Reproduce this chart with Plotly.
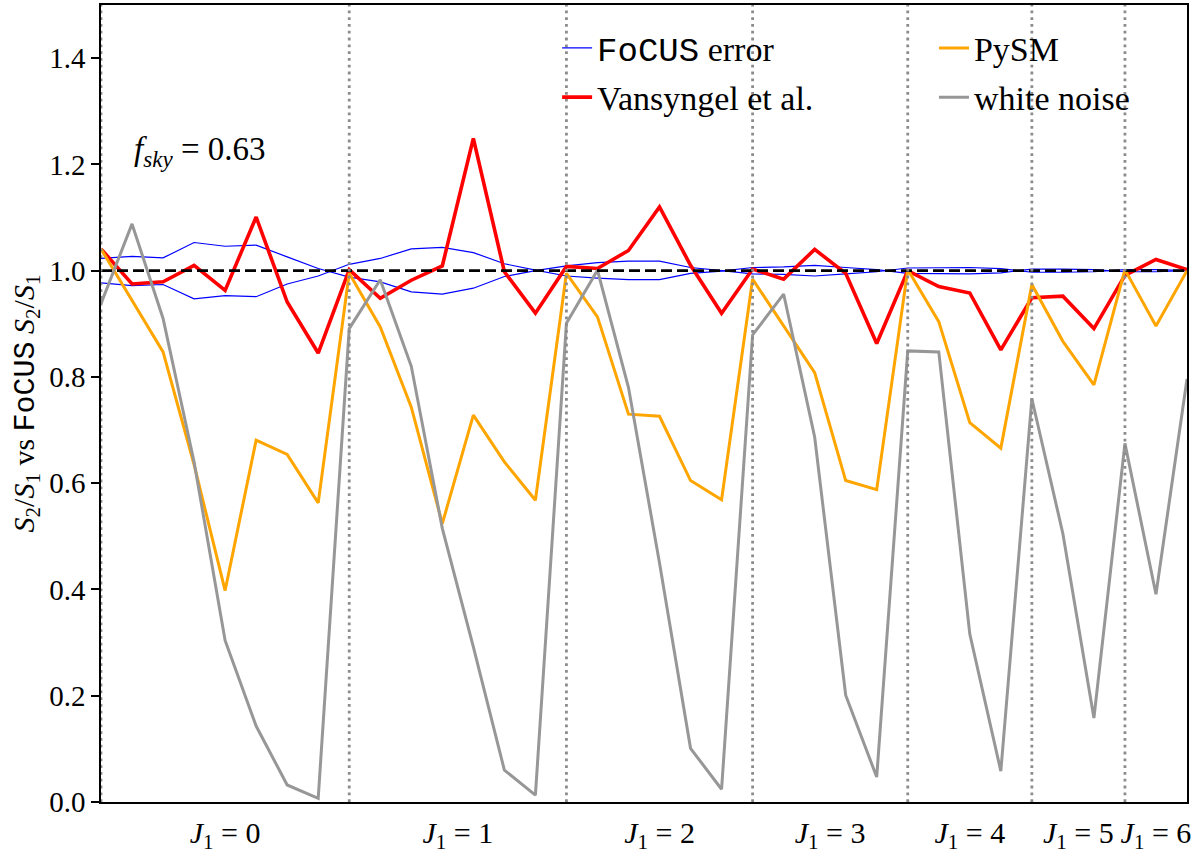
import plotly.graph_objects as go

# ---------------- data ----------------
x_idx = list(range(36))

vansyngel = [1.041, 0.975, 0.979, 1.010, 0.963, 1.101, 0.941, 0.845,
             1.002, 0.948, 0.982, 1.009, 1.249, 0.998, 0.920,
             1.008, 1.004, 1.038, 1.120, 1.010, 0.920,
             1.003, 0.984, 1.040, 0.995, 0.863,
             1.000, 0.970, 0.958, 0.851,
             0.949, 0.952, 0.891,
             0.991, 1.021, 1.002]

pysm = [1.041, 0.944, 0.847, 0.635, 0.398, 0.681, 0.654, 0.563,
        0.995, 0.894, 0.743, 0.524, 0.728, 0.640, 0.568,
        0.995, 0.913, 0.730, 0.726, 0.605, 0.569,
        0.984, 0.897, 0.808, 0.605, 0.588,
        1.002, 0.904, 0.714, 0.666,
        0.974, 0.867, 0.785,
        1.002, 0.896, 1.000]

white_noise = [0.938, 1.088, 0.910, 0.640, 0.304, 0.143, 0.032, 0.007,
               0.891, 0.983, 0.820, 0.515, 0.292, 0.060, 0.013,
               0.901, 1.001, 0.780, 0.450, 0.101, 0.024,
               0.879, 0.956, 0.687, 0.201, 0.047,
               0.849, 0.847, 0.316, 0.058,
               0.759, 0.505, 0.158,
               0.675, 0.391, 0.796]

focus_err_a = [1.023, 1.027, 1.024, 1.053, 1.046, 1.048, 1.026, 1.004,
               0.988, 0.979, 0.960, 0.956, 0.967, 0.989, 1.000,
               1.009, 1.015, 1.018, 1.018, 1.006, 1.000,
               0.994, 0.993, 0.990, 0.994, 0.998,
               1.005, 1.006, 1.006, 1.004,
               0.997, 0.997, 0.998,
               1.002, 1.002, 1.000]

focus_err_b = [0.977, 0.972, 0.974, 0.947, 0.953, 0.951, 0.975, 0.990,
               1.012, 1.023, 1.041, 1.044, 1.034, 1.013, 1.001,
               0.990, 0.986, 0.983, 0.983, 0.995, 0.999,
               1.006, 1.007, 1.010, 1.006, 1.002,
               0.995, 0.994, 0.994, 0.996,
               1.003, 1.003, 1.002,
               0.998, 0.998, 1.000]

block_starts = [0, 8, 15, 21, 26, 30, 33]
x_max = 35
tick_pos = [4, 11.5, 18, 23.5, 28, 31.5, 34]
tick_labels = ["<i>J</i><sub>1</sub> = %d" % j for j in range(7)]
y_ticks = [0.0, 0.2, 0.4, 0.6, 0.8, 1.0, 1.2, 1.4]

# ---------------- style ----------------
SERIF = "Liberation Serif"
MONO = "Liberation Mono"
mono = lambda s: "<span style='font-family:%s'>%s</span>" % (MONO, s)

fig = go.Figure()

fig.add_trace(go.Scatter(x=x_idx, y=focus_err_a, mode="lines",
                         line=dict(color="#0000ff", width=1.2),
                         name=mono("FoCUS") + " error",
                         legend="legend", legendgroup="g1"))
fig.add_trace(go.Scatter(x=x_idx, y=focus_err_b, mode="lines",
                         line=dict(color="#0000ff", width=1.2),
                         showlegend=False, legendgroup="g1"))
fig.add_trace(go.Scatter(x=x_idx, y=vansyngel, mode="lines",
                         line=dict(color="#ff0000", width=3.6),
                         name="Vansyngel et al.",
                         legend="legend", legendgroup="g2"))
fig.add_trace(go.Scatter(x=x_idx, y=pysm, mode="lines",
                         line=dict(color="#ffa500", width=3.0),
                         name="PySM",
                         legend="legend2", legendgroup="g3"))
fig.add_trace(go.Scatter(x=x_idx, y=white_noise, mode="lines",
                         line=dict(color="#979797", width=3.0),
                         name="white noise",
                         legend="legend2", legendgroup="g4"))

# horizontal reference line at 1
fig.add_shape(type="line", xref="x", yref="y", x0=0, x1=x_max, y0=1, y1=1,
              line=dict(color="black", width=2.8, dash="11px,5px"), layer="above")
# block separators
for b in block_starts:
    fig.add_shape(type="line", xref="x", yref="paper", x0=b, x1=b, y0=0, y1=1,
                  line=dict(color="#8c8c8c", width=2.8, dash="2.8px,4px"), layer="above")

fig.add_annotation(x=1, y=1.225, xref="x", yref="y", xanchor="left", yanchor="middle",
                   text="<i>f</i><sub><i>sky</i></sub> = 0.63", showarrow=False,
                   font=dict(family=SERIF, size=33, color="black"))

legend_common = dict(xanchor="left", yanchor="top", bgcolor="rgba(0,0,0,0)",
                     borderwidth=0, traceorder="grouped", tracegroupgap=2,
                     font=dict(family=SERIF, size=34, color="black"))

fig.update_layout(
    width=1200, height=858,
    margin=dict(l=101, r=13, t=5, b=56, autoexpand=False),
    paper_bgcolor="white", plot_bgcolor="white",
    font=dict(family=SERIF, color="black"),
    legend=dict(x=0.42, y=0.982, **legend_common),
    legend2=dict(x=0.767, y=0.982, **legend_common),
    xaxis=dict(range=[0, x_max], showgrid=False, zeroline=False, automargin=False,
               showline=True, mirror=True, linecolor="black", linewidth=1.6,
               ticks="", tickvals=tick_pos, ticktext=tick_labels,
               ticklabelstandoff=3,
               tickfont=dict(family=SERIF, size=30, color="black")),
    yaxis=dict(range=[0, 1.5], showgrid=False, zeroline=False, automargin=False,
               showline=True, mirror=True, linecolor="black", linewidth=1.6,
               ticks="outside", ticklen=8, tickwidth=1.6, tickcolor="black",
               tickvals=y_ticks, tickformat=".1f", ticklabelstandoff=0,
               tickfont=dict(family=SERIF, size=29, color="black"),
               title=dict(text="<i>S</i><sub>2</sub>/<i>S</i><sub>1</sub> vs "
                               + mono("FoCUS")
                               + " <i>S</i><sub>2</sub>/<i>S</i><sub>1</sub>",
                          font=dict(family=SERIF, size=30, color="black"),
                          standoff=6)),
)

fig.write_html("out.html", config={"displayModeBar": False},
               post_script="document.body.style.margin='0px';")
